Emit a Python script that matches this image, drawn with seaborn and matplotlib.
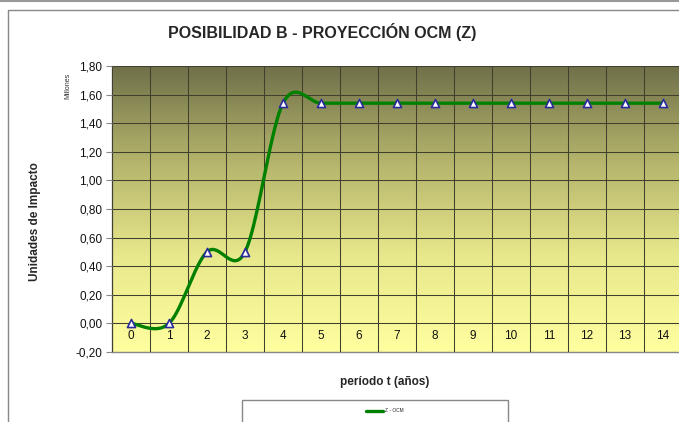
import numpy as np
import pandas as pd
import matplotlib
matplotlib.use("Agg")
import matplotlib.pyplot as plt
import seaborn as sns
from matplotlib.patches import Rectangle
from matplotlib.ticker import FuncFormatter, MultipleLocator
from matplotlib.colors import LinearSegmentedColormap

periods = list(range(15))
values = [0.0, 0.0, 0.5, 0.5, 1.54, 1.54, 1.54, 1.54, 1.54, 1.54, 1.54, 1.54, 1.54, 1.54, 1.54]
series_name = "Z - OCM"
title = "POSIBILIDAD B - PROYECCIÓN OCM (Z)"
ylabel = "Unidades de Impacto"
xlabel = "período t (años)"
units = "Millones"

sns.set_theme(style="white")
plt.rcParams['font.family'] = ['Liberation Sans', 'DejaVu Sans']

def smooth(xs, ys, n=40):
    P = np.column_stack([xs, ys]).astype(float)
    P = np.vstack([P[0], P, P[-1]])
    out = []
    for i in range(1, len(P) - 2):
        p0, p1, p2, p3 = P[i - 1], P[i], P[i + 1], P[i + 2]
        b1 = p1 + (p2 - p0) / 6
        b2 = p2 - (p3 - p1) / 6
        t = np.linspace(0, 1, n)[:, None]
        seg = (1 - t) ** 3 * p1 + 3 * (1 - t) ** 2 * t * b1 + 3 * (1 - t) * t ** 2 * b2 + t ** 3 * p2
        out.append(seg if i == 1 else seg[1:])
    return np.vstack(out)

curve = smooth(periods, values)
df_curve = pd.DataFrame({"x": curve[:, 0], "y": curve[:, 1], "s": series_name})
df_pts = pd.DataFrame({"x": periods, "y": values})

fig = plt.figure(figsize=(6.79, 4.22), dpi=100)
ax = fig.add_axes([112/679, 1-352/422, 570/679, (352-66)/422])

ymin, ymax = -0.2, 1.8
xmin, xmax = -0.5, 14.5
cmap = LinearSegmentedColormap.from_list("g", ["#ffffa0", "#e8e88c", "#b4b46c", "#70704a"])
grad = np.linspace(0, 1, 256)[:, None]
ax.imshow(grad, aspect="auto", cmap=cmap, origin="lower",
          extent=[xmin, xmax, ymin, ymax], zorder=0)

sns.lineplot(data=df_curve, x="x", y="y", sort=False, color="#008000", lw=2.4,
             ax=ax, zorder=3, label=series_name)
sns.scatterplot(data=df_pts, x="x", y="y", marker="^", s=34, color="white",
                edgecolor="#2b2b9c", linewidth=1.2, ax=ax, zorder=4)
handles, labels = ax.get_legend_handles_labels()
if ax.get_legend() is not None:
    ax.get_legend().remove()

ax.set_xlim(xmin, xmax)
ax.set_ylim(ymin, ymax)
ax.yaxis.set_major_locator(MultipleLocator(0.2))
ax.yaxis.set_major_formatter(FuncFormatter(lambda v, p: f"{v:.2f}".replace(".", ",")))
ax.set_xticks(periods)
ax.set_xticks(np.arange(-0.5, 15, 1), minor=True)
ax.grid(False)
ax.grid(True, axis="y", which="major", color="#40402c", lw=0.75, zorder=1)
ax.grid(True, axis="x", which="minor", color="#40402c", lw=0.75, zorder=1)
ax.set_axisbelow(False)
ax.tick_params(axis="x", which="both", length=0, pad=-16, labelsize=8.5, colors="#111111")
ax.tick_params(axis="y", which="major", length=4, width=0.8, color="#888888",
               direction="out", labelsize=8.5, pad=3, labelcolor="#111111", left=True)
for sp in ["top", "right"]:
    ax.spines[sp].set_visible(False)
for sp in ["left", "bottom"]:
    ax.spines[sp].set_color("#888888")
    ax.spines[sp].set_linewidth(1.0)
ax.set_xlabel("")
ax.set_ylabel("")

fig.text(322/679, 1-32/422, title, ha="center", va="center", fontsize=11.5, fontweight="bold")
fig.text(35/679, 1-222/422, ylabel, rotation=90, ha="center", va="center", fontsize=8.5, fontweight="bold")
fig.text(68/679, 1-86/422, units, rotation=90, ha="center", va="center", fontsize=5, color="#333333")
fig.text(385/679, 1-382/422, xlabel, ha="center", va="center", fontsize=8.5, fontweight="bold")

# chart borders
fig.add_artist(plt.Line2D([0, 1], [1-1/422, 1-1/422], transform=fig.transFigure, color="#999999", lw=1.5))
fig.add_artist(plt.Line2D([8/679, 8/679, 1], [0, 1-10/422, 1-10/422], transform=fig.transFigure, color="#888888", lw=1))

# legend box
fig.add_artist(Rectangle((242/679, -0.01), (508-242)/679, (422-400)/422 + 0.01,
                         transform=fig.transFigure, facecolor="white", edgecolor="#888888", lw=1))
fig.legend(handles[:1], labels[:1], loc="center", bbox_to_anchor=(385/679, 1-411/422), frameon=False,
           fontsize=3.5, handlelength=3.5, handletextpad=0.4, borderpad=0)

fig.savefig("out.png", dpi=100)
